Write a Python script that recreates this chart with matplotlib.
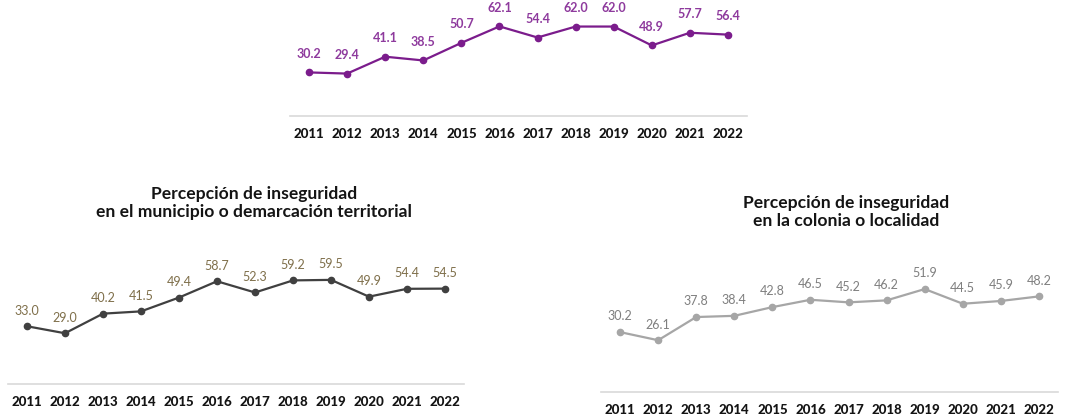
import matplotlib
matplotlib.use("Agg")
import matplotlib.pyplot as plt

years = ["2011", "2012", "2013", "2014", "2015", "2016",
         "2017", "2018", "2019", "2020", "2021", "2022"]
entidad = [30.2, 29.4, 41.1, 38.5, 50.7, 62.1, 54.4, 62.0, 62.0, 48.9, 57.7, 56.4]
municipio = [33.0, 29.0, 40.2, 41.5, 49.4, 58.7, 52.3, 59.2, 59.5, 49.9, 54.4, 54.5]
colonia = [30.2, 26.1, 37.8, 38.4, 42.8, 46.5, 45.2, 46.2, 51.9, 44.5, 45.9, 48.2]

title_mun = "Percepción de inseguridad\nen el municipio o demarcación territorial"
title_col = "Percepción de inseguridad\nen la colonia o localidad"

W, H = 1071, 418
plt.rcParams["font.family"] = ["Lato", "DejaVu Sans"]
fig = plt.figure(figsize=(W / 100, H / 100), dpi=100)


def px_axes(left, bottom_y, width, height):
    # pixel box measured from the top-left of the picture
    return fig.add_axes([left / W, (H - bottom_y) / H, width / W, height / H])


def draw(ax, values, ymax, line_c, label_c, label_bold, lab_off=7):
    x = range(len(years))
    ax.plot(x, values, "-o", color=line_c, linewidth=1.6, markersize=4.5, clip_on=False)
    for i, v in zip(x, values):
        ax.annotate(f"{v:.1f}", (i, v), xytext=(0, lab_off), textcoords="offset points",
                    ha="center", va="bottom", fontsize=9, color=label_c,
                    fontweight="bold" if label_bold else "normal", annotation_clip=False)
    ax.set_xlim(-0.5, len(years) - 0.5)
    ax.set_ylim(0, ymax)
    ax.set_xticks(list(x))
    ax.set_xticklabels(years, fontsize=9.5, fontweight="black", color="#141414")
    ax.tick_params(axis="x", length=0, pad=9)
    ax.set_yticks([])
    for s in ("top", "left", "right"):
        ax.spines[s].set_visible(False)
    ax.spines["bottom"].set_color("#d9d9d9")
    ax.spines["bottom"].set_linewidth(1.2)
    ax.patch.set_alpha(0)


# top chart
ax1 = px_axes(290, 116, 457, 101)
draw(ax1, entidad, 70, "#7b1c8c", "#8e3a9d", True, lab_off=9)

# bottom-left chart
ax2 = px_axes(8, 384, 456, 122.5)
draw(ax2, municipio, 70, "#404040", "#7f6f4a", False)
fig.text(254 / W, 1 - 203 / H, title_mun, ha="center", va="center",
         fontsize=12.6, fontweight="bold", color="#141414", linespacing=1.15)

# bottom-right chart
ax3 = px_axes(601, 392, 457, 119)
draw(ax3, colonia, 60, "#a6a6a6", "#7f7f7f", False)
fig.text(846 / W, 1 - 212 / H, title_col, ha="center", va="center",
         fontsize=12.6, fontweight="bold", color="#141414", linespacing=1.15)

fig.savefig("out.png", dpi=100)
